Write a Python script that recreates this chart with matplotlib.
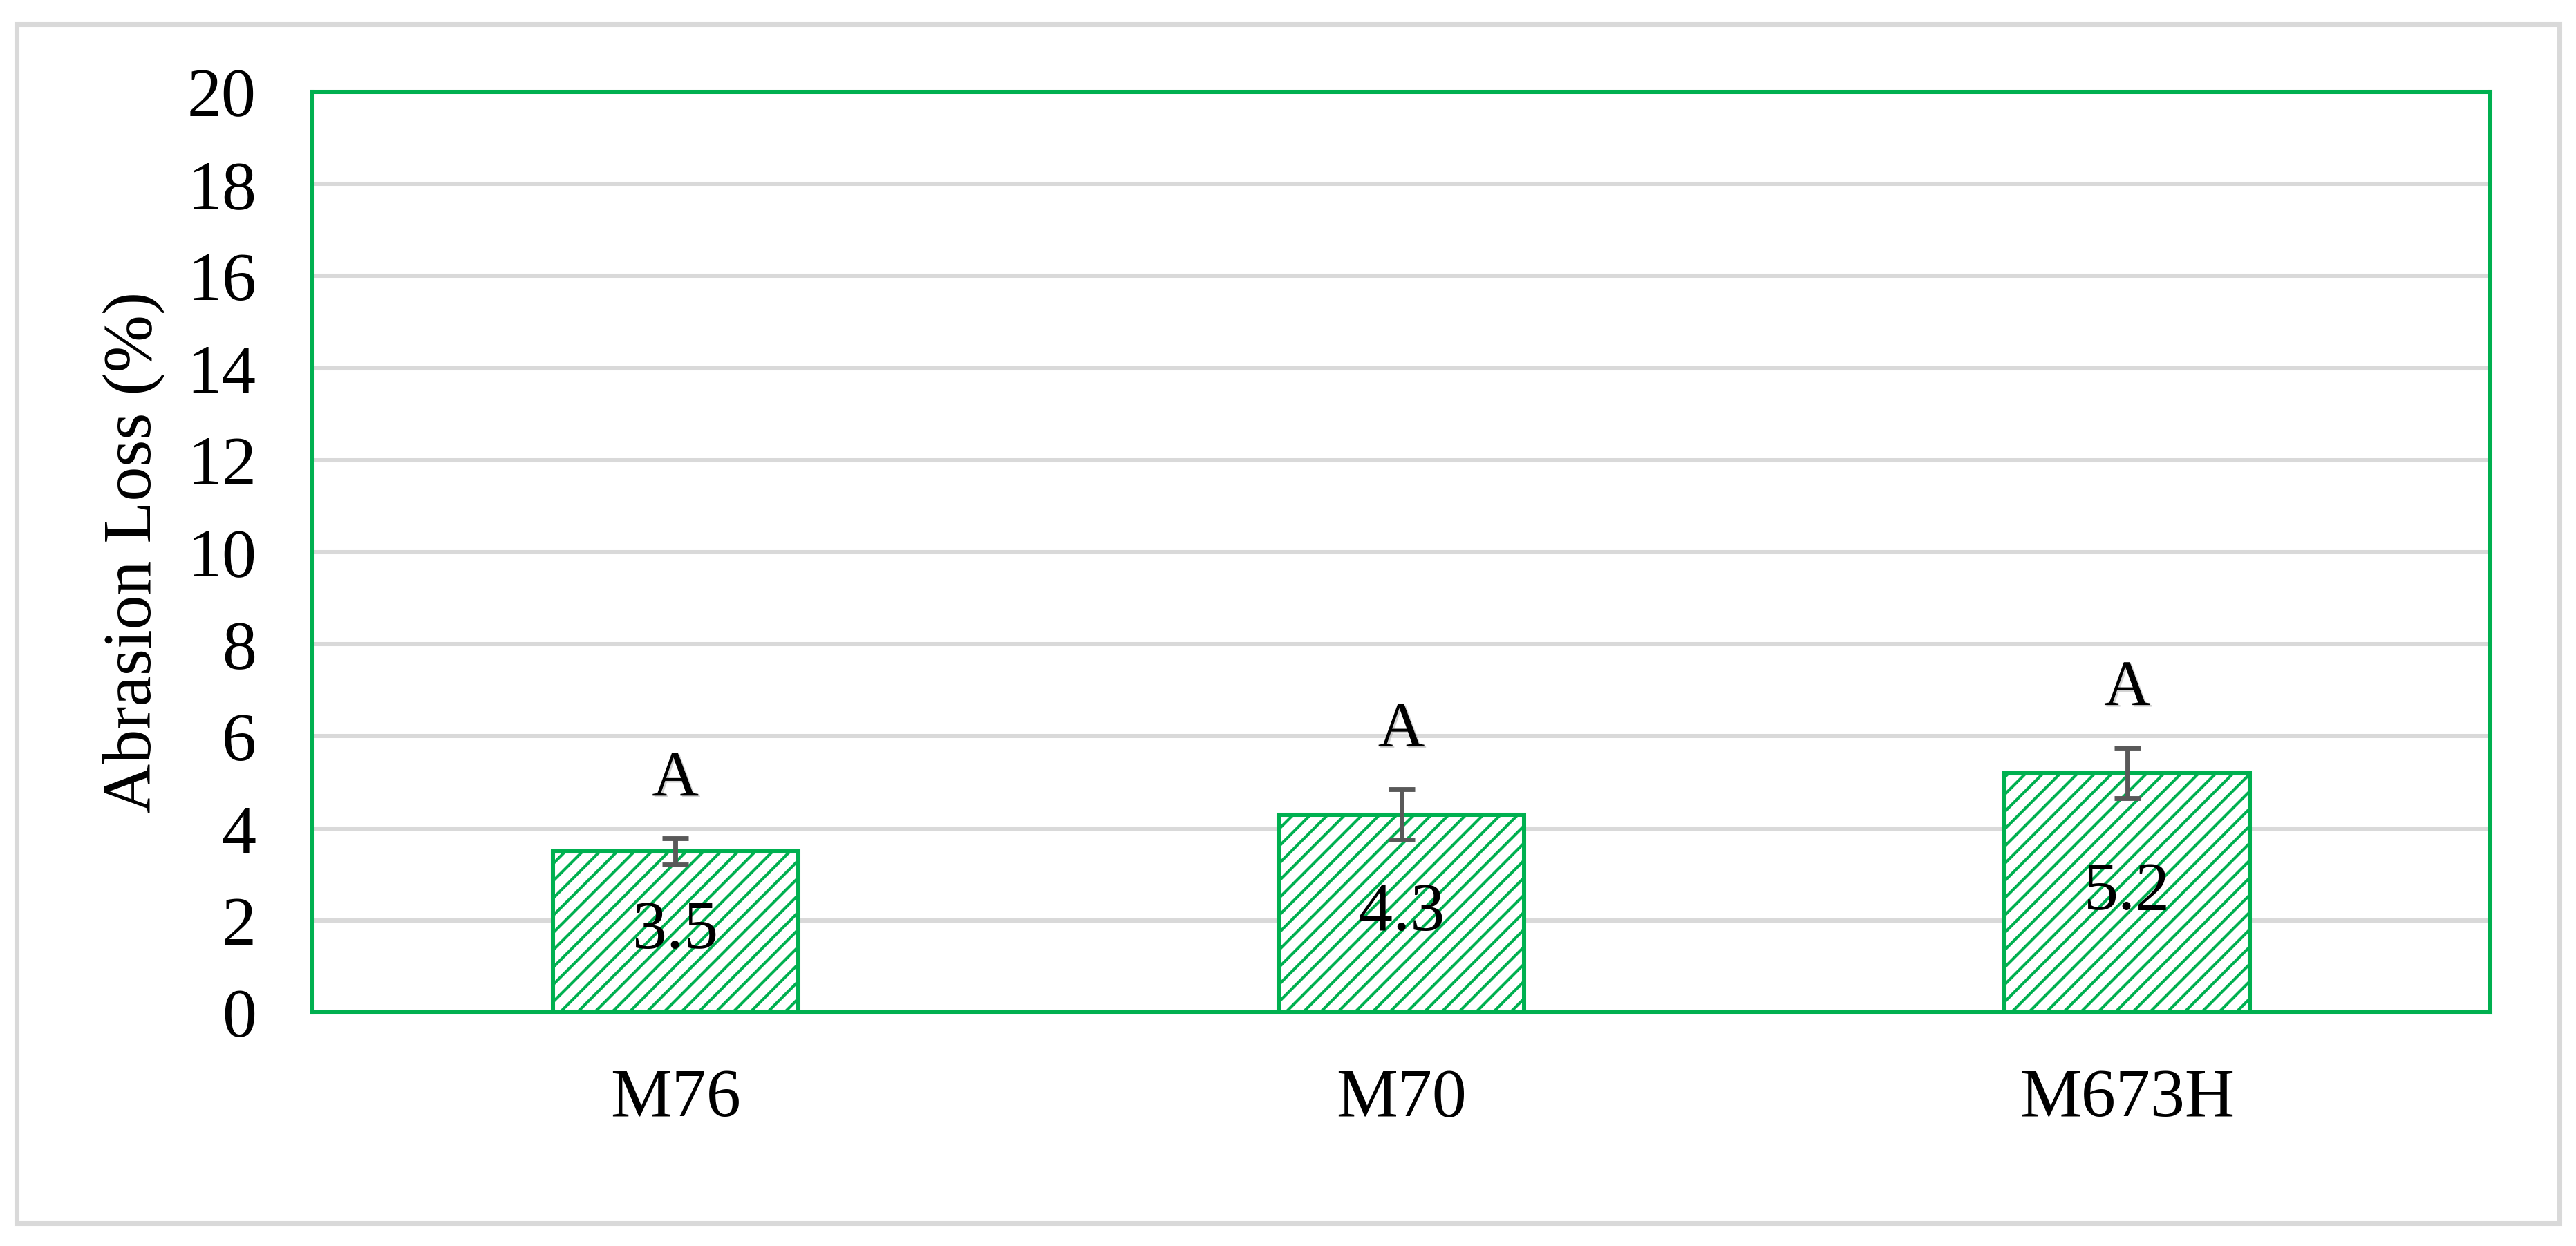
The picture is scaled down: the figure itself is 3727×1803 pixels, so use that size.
import matplotlib
matplotlib.use("Agg")
import matplotlib.pyplot as plt
import matplotlib.patheffects as pe
from matplotlib.patches import Rectangle

categories = ["M76", "M70", "M673H"]
values = [3.5, 4.3, 5.2]
errors = [0.28, 0.55, 0.55]
letters = ["A", "A", "A"]
yticks = [0, 2, 4, 6, 8, 10, 12, 14, 16, 18, 20]

GREEN = "#00B050"
GRID = "#D9D9D9"
ERR = "#595959"

plt.rcParams["font.family"] = ["Liberation Serif", "DejaVu Serif"]
plt.rcParams["hatch.color"] = GREEN
plt.rcParams["hatch.linewidth"] = 2.0

W, H, DPI = 3727, 1803, 150
fig = plt.figure(figsize=(W / DPI, H / DPI), dpi=DPI)

# outer chart-area border
fig.patches.append(Rectangle((24 / W, 1 - 1770 / H), (3703 - 24) / W, (1770 - 35) / H,
                             transform=fig.transFigure, fill=False,
                             edgecolor=GRID, linewidth=3.4, zorder=0))

ax = fig.add_axes([452 / W, 1 - 1465 / H, (3603 - 452) / W, (1465 - 133) / H])
x = list(range(len(categories)))
bars = ax.bar(x, values, width=0.338, facecolor="white", edgecolor=GREEN,
              linewidth=2.9, hatch="//", zorder=2)
ax.errorbar(x, values, yerr=errors, fmt="none", ecolor=ERR, elinewidth=3.3,
            capsize=9, capthick=3.3, zorder=3)
ax.bar_label(bars, labels=[f"{v:.1f}" for v in values], label_type="center",
             fontsize=48, color="black", zorder=4)

for xi, v, e, t in zip(x, values, errors, letters):
    ax.text(xi, v + e + 0.93, t, ha="center", va="baseline", fontsize=45,
            color="black", zorder=5,
            path_effects=[pe.SimplePatchShadow(offset=(1.2, -1.2), shadow_rgbFace="#808080", alpha=0.35),
                          pe.Normal()])

ax.set_xlim(-0.5, 2.5)
ax.set_ylim(0, 20)
ax.set_yticks(yticks)
ax.set_yticklabels([str(t) for t in yticks])
ax.set_xticks(x)
ax.set_xticklabels(categories)
ax.tick_params(axis="both", length=0, labelsize=48, pad=39)
ax.yaxis.grid(True, color=GRID, linewidth=2.9)
ax.set_axisbelow(True)
for s in ax.spines.values():
    s.set_color(GREEN)
    s.set_linewidth(2.9)
ax.set_ylabel("Abrasion Loss (%)", fontsize=48, labelpad=15)

fig.savefig("out.png", dpi=DPI)
